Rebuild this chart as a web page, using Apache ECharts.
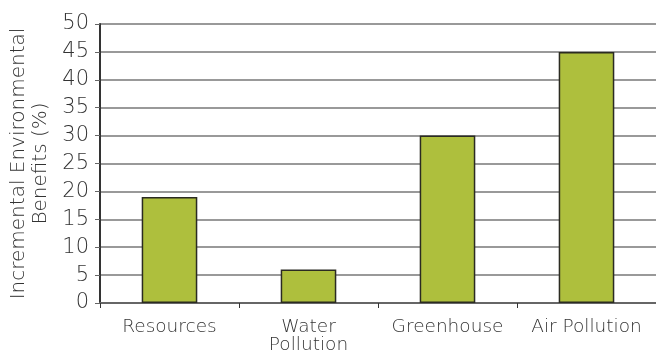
<!DOCTYPE html>
<html>
<head>
    <meta charset="utf-8">
    <title>Incremental Environmental Benefits</title>
    <script src="https://cdn.jsdelivr.net/npm/echarts@6/dist/echarts.min.js"></script>
</head>
<body style="margin: 0; background: #fff;">
<div id="container" style="width: 656px; height: 358px;"></div>
<script type="text/javascript">
    // categories and values
    var categories = ["Resources", "Water\nPollution", "Greenhouse", "Air Pollution"];
    var benefits = [19, 6, 30, 45];
    var yTicks = [0, 50, 5]; // min, max, step

    var font = "DejaVu Sans";
    var myChart = echarts.init(document.getElementById("container"));
    var option = {
        animation: false,
        grid: { left: 100, right: 0, top: 24, bottom: 55, outerBoundsMode: "none" },
        xAxis: {
            type: "category",
            data: categories,
            axisLine: { lineStyle: { color: "#666", width: 2 } },
            axisTick: { show: true, length: 5, lineStyle: { color: "#333" } },
            axisLabel: {
                color: "#333", fontSize: 18.5, fontFamily: font, fontWeight: 200,
                lineHeight: 18, margin: 15, interval: 0
            }
        },
        yAxis: {
            type: "value",
            min: yTicks[0], max: yTicks[1], interval: yTicks[2],
            name: "Incremental Environmental\nBenefits (%)",
            nameLocation: "middle",
            nameGap: 48,
            nameTextStyle: { color: "#333", fontSize: 20, fontFamily: font, fontWeight: 200, lineHeight: 22 },
            axisLine: { show: true, onZero: false, lineStyle: { color: "#333", width: 2 } },
            axisTick: { show: true, length: 5, lineStyle: { color: "#666" } },
            axisLabel: { color: "#333", fontSize: 21, fontFamily: font, fontWeight: 200, margin: 11 },
            splitLine: { lineStyle: { color: "#777", width: 1.5 } }
        },
        series: [{
            type: "bar",
            data: benefits,
            barWidth: "40%",
            itemStyle: { color: "#aebf3d", borderColor: "#2b2b22", borderWidth: 1.5 }
        }]
    };
    myChart.setOption(option, true);
</script>
</body>
</html>
